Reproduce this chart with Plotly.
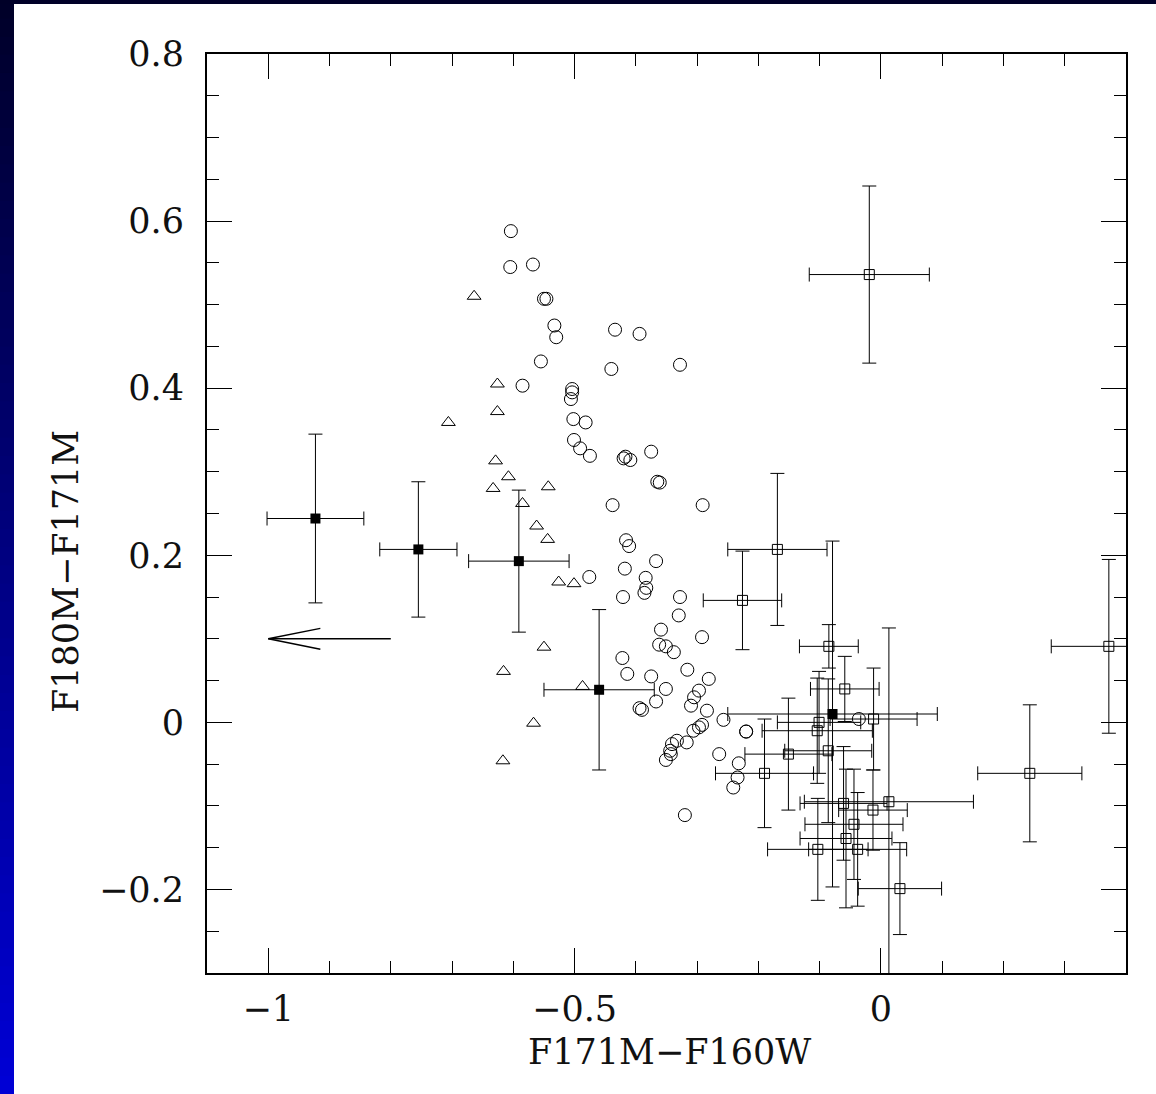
import plotly.graph_objects as go

# ---------------- data ----------------
# open circles
circ_x = [-0.604, -0.605, -0.568, -0.550, -0.546, -0.533, -0.530, -0.434, -0.394, -0.555,
          -0.440, -0.328, -0.585, -0.504, -0.504, -0.506, -0.502, -0.482, -0.501, -0.491,
          -0.475, -0.420, -0.417, -0.409, -0.375, -0.365, -0.361, -0.438, -0.291, -0.416,
          -0.411, -0.367, -0.476, -0.418, -0.384, -0.383, -0.386, -0.421, -0.328, -0.330,
          -0.359, -0.362, -0.351, -0.338, -0.292, -0.422, -0.414, -0.375, -0.316, -0.351,
          -0.367, -0.394, -0.390, -0.281, -0.297, -0.305, -0.310, -0.284, -0.292, -0.297,
          -0.306, -0.317, -0.333, -0.341, -0.344, -0.343, -0.351, -0.257, -0.220, -0.220,
          -0.264, -0.232, -0.234, -0.241, -0.320, -0.036]
circ_y = [0.588, 0.545, 0.548, 0.507, 0.507, 0.475, 0.461, 0.470, 0.465, 0.432,
          0.423, 0.428, 0.403, 0.399, 0.395, 0.387, 0.363, 0.359, 0.338, 0.328,
          0.319, 0.316, 0.318, 0.314, 0.324, 0.288, 0.287, 0.260, 0.260, 0.218,
          0.211, 0.193, 0.174, 0.184, 0.173, 0.161, 0.155, 0.150, 0.150, 0.128,
          0.111, 0.093, 0.091, 0.084, 0.102, 0.077, 0.058, 0.055, 0.063, 0.040,
          0.025, 0.017, 0.015, 0.052, 0.038, 0.030, 0.020, 0.014, -0.003, -0.006,
          -0.010, -0.024, -0.022, -0.026, -0.034, -0.038, -0.045, 0.003, -0.011, -0.011,
          -0.038, -0.049, -0.066, -0.078, -0.111, 0.004]

# open triangles
tri_x = [-0.664, -0.706, -0.626, -0.626, -0.629, -0.608, -0.633, -0.543, -0.585,
         -0.562, -0.544, -0.526, -0.501, -0.550, -0.616, -0.487, -0.567, -0.617]
tri_y = [0.510, 0.359, 0.405, 0.372, 0.313, 0.294, 0.280, 0.282, 0.262,
         0.235, 0.219, 0.168, 0.166, 0.090, 0.061, 0.043, -0.001, -0.046]

# filled squares with error bars
fill_x = [-0.923, -0.755, -0.591, -0.460, -0.079]
fill_y = [0.244, 0.207, 0.193, 0.039, 0.010]
fill_ex = [0.079, 0.063, 0.082, 0.090, 0.171]
fill_ey = [0.101, 0.081, 0.085, 0.096, 0.207]

# open squares with error bars
sq_x = [-0.019, -0.169, -0.226, -0.085, -0.059, -0.012, -0.101, -0.104, -0.086, -0.151,
        -0.190, -0.061, 0.013, -0.013, -0.044, -0.057, -0.103, -0.038, 0.031, 0.243, 0.372]
sq_y = [0.536, 0.207, 0.146, 0.091, 0.040, 0.004, 0.000, -0.010, -0.034, -0.038,
        -0.061, -0.097, -0.095, -0.105, -0.122, -0.139, -0.152, -0.152, -0.199, -0.061, 0.091]
sq_ex = [0.098, 0.081, 0.064, 0.048, 0.056, 0.071, 0.068, 0.090, 0.071, 0.071,
         0.080, 0.071, 0.138, 0.056, 0.080, 0.075, 0.082, 0.080, 0.068, 0.085, 0.094]
sq_ey = [0.106, 0.091, 0.059, 0.026, 0.039, 0.061, 0.061, 0.063, 0.086, 0.067,
         0.065, 0.068, 0.208, 0.048, 0.066, 0.083, 0.061, 0.068, 0.055, 0.082, 0.104]

# arrow (limit indicator)
arrow_x = [-0.8, -1.0, None, -0.915, -1.0, -0.915]
arrow_y = [0.1, 0.1, None, 0.1125, 0.1, 0.0875]

# axes
x_range = [-1.1, 0.4]
y_range = [-0.3, 0.8]
x_ticks = [-1, -0.5, 0]
x_ticktext = ["\u22121", "\u22120.5", "0"]
y_ticks = [-0.2, 0, 0.2, 0.4, 0.6, 0.8]
y_ticktext = ["\u22120.2", "0", "0.2", "0.4", "0.6", "0.8"]
x_title = "F171M\u2212F160W"
y_title = "F180M\u2212F171M"

# ---------------- figure ----------------
FONT = "DejaVu Serif"
TXT = "#111111"
fig = go.Figure()

eb = dict(type="data", color="black", thickness=1, width=7)

fig.add_trace(go.Scatter(
    x=sq_x, y=sq_y, mode="markers",
    marker=dict(symbol="square-open", size=10, color="black", line=dict(width=1)),
    error_x=dict(array=sq_ex, **eb), error_y=dict(array=sq_ey, **eb),
    showlegend=False))

fig.add_trace(go.Scatter(
    x=fill_x, y=fill_y, mode="markers",
    marker=dict(symbol="square", size=10, color="black"),
    error_x=dict(array=fill_ex, **eb), error_y=dict(array=fill_ey, **eb),
    showlegend=False))

fig.add_trace(go.Scatter(
    x=circ_x, y=circ_y, mode="markers",
    marker=dict(symbol="circle-open", size=13, color="black", line=dict(width=1)),
    showlegend=False))

fig.add_trace(go.Scatter(
    x=tri_x, y=tri_y, mode="markers",
    marker=dict(symbol="triangle-up-open", size=12, color="black", line=dict(width=1)),
    showlegend=False))

fig.add_trace(go.Scatter(
    x=arrow_x, y=arrow_y, mode="lines",
    line=dict(color="black", width=1.5),
    showlegend=False))

axis_common = dict(
    showgrid=False, zeroline=False,
    showline=True, linecolor="black", linewidth=2, mirror="allticks",
    ticks="inside", ticklen=25, tickwidth=1.2, tickcolor="black",
    tickfont=dict(family=FONT, size=35, color=TXT),
)

fig.update_xaxes(range=x_range, tickmode="array", tickvals=x_ticks, ticktext=x_ticktext,
                 minor=dict(tickmode="linear", tick0=0, dtick=0.1, ticks="inside",
                            ticklen=12, tickwidth=1.2, tickcolor="black"),
                 ticklabelstandoff=4, **axis_common)
fig.update_yaxes(range=y_range, tickmode="array", tickvals=y_ticks, ticktext=y_ticktext,
                 minor=dict(tickmode="linear", tick0=0, dtick=0.05, ticks="inside",
                            ticklen=12, tickwidth=1.2, tickcolor="black"),
                 ticklabelstandoff=14, **axis_common)

# background frame (slide-style gradient strip at the left, dark band on top)
L, R, T, B = 207, 30, 54, 121
W, H = 1156, 1094
pw, ph = W - L - R, H - T - B
def px2paper_x(px):
    return (px - L) / pw
def py2paper_y(py):
    return (H - B - py) / ph

shapes = []
nseg = 60
for i in range(nseg):
    y0 = H * i / nseg
    y1 = H * (i + 1) / nseg + 1
    f = (i + 0.5) / nseg
    b = int(40 + (215 - 40) * f)
    shapes.append(dict(type="rect", xref="paper", yref="paper", layer="below",
                       x0=px2paper_x(0), x1=px2paper_x(14),
                       y0=py2paper_y(y0), y1=py2paper_y(y1),
                       fillcolor=f"rgb(0,0,{b})", line=dict(width=0)))
shapes.append(dict(type="rect", xref="paper", yref="paper", layer="below",
                   x0=px2paper_x(0), x1=px2paper_x(W), y0=py2paper_y(0), y1=py2paper_y(4),
                   fillcolor="rgb(0,0,40)", line=dict(width=0)))

annotations = [
    dict(text=x_title, xref="paper", yref="paper", x=px2paper_x(669), y=py2paper_y(1052),
         xanchor="center", yanchor="middle", showarrow=False,
         font=dict(family=FONT, size=35, color=TXT)),
    dict(text=y_title, xref="paper", yref="paper", x=px2paper_x(66), y=py2paper_y(572),
         xanchor="center", yanchor="middle", showarrow=False, textangle=-90,
         font=dict(family=FONT, size=35, color=TXT)),
]

fig.update_layout(
    width=W, height=H,
    margin=dict(l=L, r=R, t=T, b=B, pad=0),
    paper_bgcolor="white", plot_bgcolor="white",
    shapes=shapes, annotations=annotations,
    showlegend=False,
)

fig.write_html("out.html", config={"displayModeBar": False},
               post_script="document.body.style.margin='0';document.body.style.overflow='hidden';")
